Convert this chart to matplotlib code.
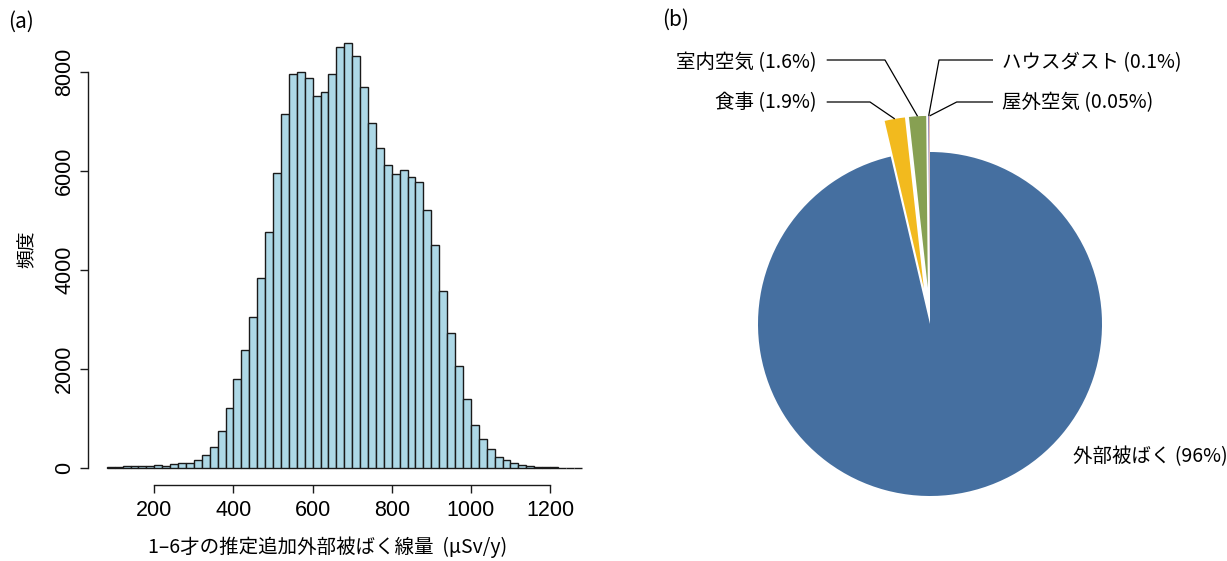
import matplotlib
matplotlib.use("Agg")
import matplotlib.pyplot as plt
import numpy as np

plt.rcParams['font.family'] = ['Noto Sans CJK JP', 'DejaVu Sans']

# ---- (a) histogram of estimated additional external dose, ages 1-6 ----
bin_start = 80
bin_width = 20
counts = [15, 15, 35, 35, 35, 50, 60, 40, 80, 95,
          110, 170, 255, 420, 755, 1215, 1790, 2395, 3055, 3840,
          4770, 5970, 7150, 7960, 7995, 7885, 7520, 7590, 7960, 8500,
          8590, 8330, 7710, 6975, 6475, 6130, 5935, 6020, 5880, 5780,
          5210, 4500, 3580, 2730, 2070, 1400, 870, 595, 385, 225,
          160, 95, 65, 40, 25, 15, 12, 10, 8, 5]
x_ticks = [200, 400, 600, 800, 1000, 1200]
y_ticks = [0, 2000, 4000, 6000, 8000]
x_label = "1–6才の推定追加外部被ばく線量  (μSv/y)"
y_label = "頻度"

# ---- (b) share of dose by exposure pathway ----
sources = ["外部被ばく", "食事", "室内空気", "ハウスダスト", "屋外空気"]
shares = [96, 1.9, 1.6, 0.1, 0.05]
share_text = ["96%", "1.9%", "1.6%", "0.1%", "0.05%"]
pie_colors = ["#456FA0", "#F2BA1E", "#87A052", "#7E6CA8", "#F0A882"]

W, H = 1227, 561
fig = plt.figure(figsize=(W / 100, H / 100), dpi=100)


def px_axes(left, top, right, bottom):
    return fig.add_axes([left / W, 1 - bottom / H, (right - left) / W, (bottom - top) / H])


# histogram panel
ax = px_axes(87.8, 26, 600.7, 485)
edges = bin_start + bin_width * np.arange(len(counts) + 1)
ax.hist(edges[:-1], bins=edges, weights=counts, color="#ADD8E6",
        edgecolor="#1a1a1a", linewidth=1.0)
span = edges[-1] - edges[0]
ax.set_xlim(edges[0] - 0.04 * span, edges[-1] + 0.04 * span)
ymax = max(counts)
ax.set_ylim(-0.04 * ymax, 1.04 * ymax)
for s in ("top", "right"):
    ax.spines[s].set_visible(False)
ax.spines["left"].set_bounds(y_ticks[0], y_ticks[-1])
ax.spines["bottom"].set_bounds(x_ticks[0], x_ticks[-1])
for s in ("left", "bottom"):
    ax.spines[s].set_linewidth(1.0)
    ax.spines[s].set_color("#1a1a1a")
ax.set_xticks(x_ticks)
ax.set_xticklabels([str(v) for v in x_ticks], fontfamily="Liberation Sans", fontsize=15.5)
ax.set_yticks(y_ticks)
ax.set_yticklabels([str(v) for v in y_ticks], fontfamily="Liberation Sans", fontsize=15.5,
                   rotation=90, va="center", ha="right")
ax.tick_params(axis="both", direction="out", length=6, width=1.0, color="#1a1a1a")
ax.tick_params(axis="x", pad=5)
ax.tick_params(axis="y", pad=3)

fig.text(328 / W, 1 - 547 / H, x_label, ha="center", va="center", fontsize=14)
fig.text(27 / W, 1 - 249 / H, y_label, rotation=90, ha="center", va="center", fontsize=13.5)
fig.text(21 / W, 1 - 22 / H, "(a)", ha="center", va="center", fontsize=15)
fig.text(676 / W, 1 - 20 / H, "(b)", ha="center", va="center", fontsize=15)

# pie panel: centre and radius in pixels
cx, cy, R = 930, 324, 172
ax2 = px_axes(650, 0, W, H)
explode = [0.0, 0.21, 0.21, 0.21, 0.21]
wedges, _ = ax2.pie(shares, explode=explode, colors=pie_colors, startangle=90,
                    counterclock=False, radius=1, wedgeprops=dict(linewidth=0))
ax2.set_aspect("auto")
ax2.set_xlim((650 - cx) / R, (W - cx) / R)
ax2.set_ylim(-(H - cy) / R, cy / R)
ax2.axis("off")


def to_data(px, py):
    return (px - cx) / R, (cy - py) / R


# label layout: (text anchor px, text y px, ha, line end x px, elbow x px, line y px)
label_layout = {
    1: (816.7, 103, "right", 826.7, 870, 102),
    2: (816.7, 63, "right", 826.7, 885, 60),
    3: (1001.7, 63, "left", 993, 939, 60),
    4: (1001.7, 103, "left", 993, 956.7, 102),
}
for i, (tx, ty, ha, lx, ex, ly) in label_layout.items():
    w = wedges[i]
    th = np.deg2rad(0.5 * (w.theta1 + w.theta2))
    ox, oy = w.center
    arc = (ox + w.r * np.cos(th), oy + w.r * np.sin(th))
    p_end = to_data(lx, ly)
    p_elb = to_data(ex, ly)
    ax2.plot([p_end[0], p_elb[0], arc[0]], [p_end[1], p_elb[1], arc[1]],
             color="black", lw=0.9, solid_capstyle="butt")
    px_, py_ = to_data(tx, ty)
    ax2.text(px_, py_, f"{sources[i]} ({share_text[i]})", ha=ha, va="center", fontsize=14)

bx, by = to_data(1073, 457)
ax2.text(bx, by, f"{sources[0]} ({share_text[0]})", ha="left", va="center", fontsize=14)

fig.savefig("out.png", dpi=100)
